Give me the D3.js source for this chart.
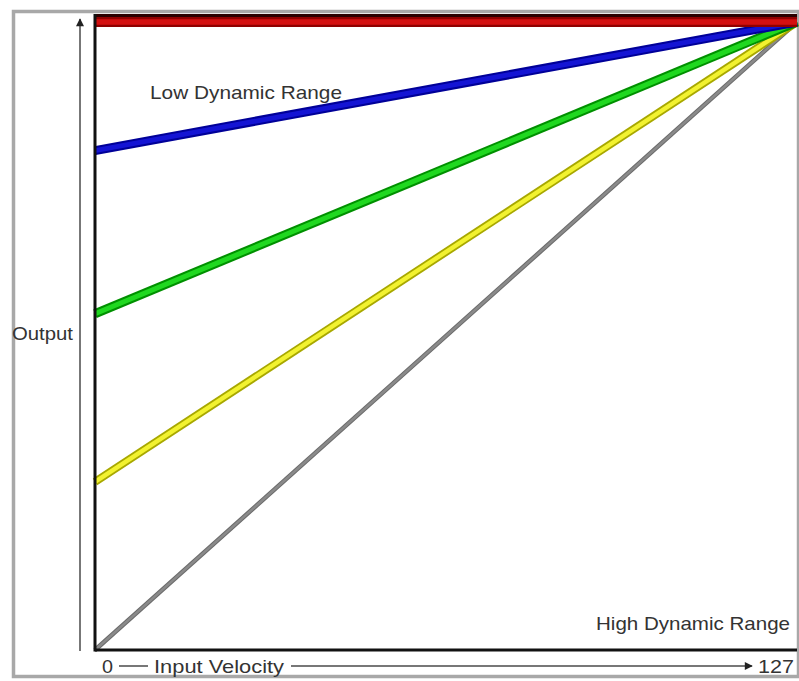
<!DOCTYPE html>
<html>
<head>
<meta charset="utf-8">
<script src="https://cdn.jsdelivr.net/npm/d3@7"></script>
<style>
  body { margin: 0; background: #fff; }
  text { font-family: "Liberation Sans", Arial, sans-serif; fill: #333; }
</style>
</head>
<body>
<div id="chart"></div>
<script>
// velocity curves: output at input 0, all reach 127 at input 127
const curves = ['flat', 'low', 'mid', 'high', 'linear'];
const startOutput = [127, 101, 68, 34, 0];
const endOutput = [127, 127, 127, 127, 127];
const inputRange = [0, 127];
const tickLabels = ['0', '127'];

const w = 799;
const h = 681;
const margin = ({ top: 22, right: 2, bottom: 31, left: 95 });

const svg = d3.select('#chart')
  .append('svg')
  .attr('width', w)
  .attr('height', h);

// frame
svg.append('rect')
  .attr('x', 13.5).attr('y', 11.5)
  .attr('width', 785).attr('height', 665)
  .attr('fill', '#fff')
  .attr('stroke', '#a8a8a8')
  .attr('stroke-width', 3.5);

const xScale = d3.scaleLinear()
  .domain(inputRange)
  .range([margin.left, w - margin.right]);

const yScale = d3.scaleLinear()
  .domain(inputRange)
  .range([h - margin.bottom, margin.top]);

const edge = d3.scaleOrdinal()
  .domain(curves)
  .range(['#900000', '#000098', '#009000', '#a8a800', '#6a6a6a']);
const core = d3.scaleOrdinal()
  .domain(curves)
  .range(['#d41010', '#1414d4', '#20d820', '#f2f230', '#8a8a8a']);
const width = d3.scaleOrdinal()
  .domain(curves)
  .range([10, 9, 9, 8, 4.5]);

// top dark rule above the red curve
svg.append('line')
  .attr('x1', margin.left).attr('x2', w - margin.right)
  .attr('y1', 15.5).attr('y2', 15.5)
  .attr('stroke', '#2a0000')
  .attr('stroke-width', 3);

const data = curves.map((c, i) => ({ c, y0: startOutput[i], y1: endOutput[i] }));

const line = d3.line()
  .x(d => xScale(d[0]))
  .y(d => yScale(d[1]));

const groups = svg.selectAll('.curve')
  .data(data.slice().reverse())
  .enter()
  .append('g')
  .attr('class', 'curve');

groups.append('path')
  .attr('d', d => line([[inputRange[0], d.y0], [inputRange[1], d.y1]]))
  .attr('fill', 'none')
  .attr('stroke', d => edge(d.c))
  .attr('stroke-width', d => width(d.c));

groups.append('path')
  .attr('d', d => line([[inputRange[0], d.y0], [inputRange[1], d.y1]]))
  .attr('fill', 'none')
  .attr('stroke', d => core(d.c))
  .attr('stroke-width', d => width(d.c) * 0.55);

// axes
svg.append('line')
  .attr('x1', margin.left).attr('x2', margin.left)
  .attr('y1', 14).attr('y2', yScale(0) + 1.5)
  .attr('stroke', '#111').attr('stroke-width', 3);
svg.append('line')
  .attr('x1', margin.left).attr('x2', w - margin.right)
  .attr('y1', yScale(0)).attr('y2', yScale(0))
  .attr('stroke', '#111').attr('stroke-width', 3);

// arrows
const defs = svg.append('defs');
defs.append('marker')
  .attr('id', 'arrow')
  .attr('viewBox', '0 0 10 10')
  .attr('refX', 9).attr('refY', 5)
  .attr('markerWidth', 9).attr('markerHeight', 8)
  .attr('markerUnits', 'userSpaceOnUse')
  .attr('orient', 'auto')
  .append('path')
  .attr('d', 'M0,0L10,5L0,10z')
  .attr('fill', '#222');

svg.append('line')
  .attr('x1', 80).attr('x2', 80)
  .attr('y1', yScale(0) + 1).attr('y2', 19)
  .attr('stroke', '#777').attr('stroke-width', 2)
  .attr('marker-end', 'url(#arrow)');

const arrowY = 666;
svg.append('line')
  .attr('x1', 119).attr('x2', 148)
  .attr('y1', arrowY).attr('y2', arrowY)
  .attr('stroke', '#777').attr('stroke-width', 2);
svg.append('line')
  .attr('x1', 291).attr('x2', 752)
  .attr('y1', arrowY).attr('y2', arrowY)
  .attr('stroke', '#777').attr('stroke-width', 2)
  .attr('marker-end', 'url(#arrow)');

// labels
const label = (x, y, s, len, anchor) => svg.append('text')
  .attr('x', x).attr('y', y)
  .attr('font-size', 19)
  .attr('text-anchor', anchor || 'start')
  .attr('textLength', len)
  .attr('lengthAdjust', 'spacingAndGlyphs')
  .text(s);

label(xScale(inputRange[0]) + 7, arrowY + 7, tickLabels[0], 11);
label(xScale(inputRange[1]) - 3, arrowY + 7, tickLabels[1], 36, 'end');
label(154, arrowY + 7, 'Input Velocity', 130);
label(12, 340, 'Output', 61);
label(150, 99, 'Low Dynamic Range', 192);
label(790, 630, 'High Dynamic Range', 194, 'end');
</script>
</body>
</html>
